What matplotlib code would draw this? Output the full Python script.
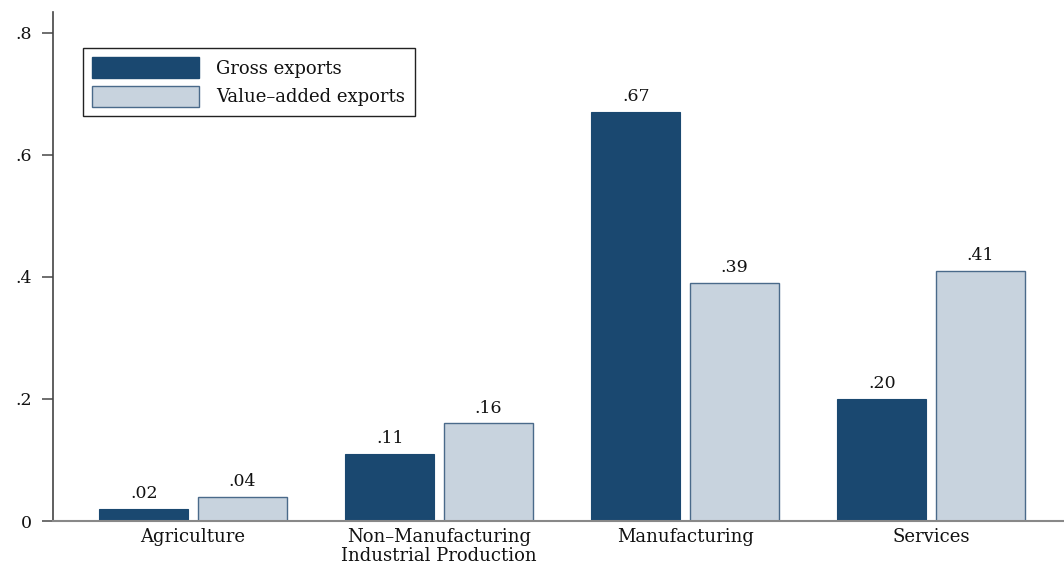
import matplotlib
matplotlib.use("Agg")
import matplotlib.pyplot as plt
import numpy as np
from matplotlib.patches import Patch

categories = ["Agriculture", "Non\u2013Manufacturing\nIndustrial Production", "Manufacturing", "Services"]
gross = [0.02, 0.11, 0.67, 0.20]
value_added = [0.04, 0.16, 0.39, 0.41]
series_names = ["Gross exports", "Value\u2013added exports"]
yticks = [0, 0.2, 0.4, 0.6, 0.8]
ytick_labels = ["0", ".2", ".4", ".6", ".8"]

dark = "#1a4870"
light = "#c8d3de"
edge = "#4a6a8a"

plt.rcParams['font.family'] = ['DejaVu Serif']

fig = plt.figure(figsize=(10.64, 5.65), dpi=100)
ax = fig.add_axes([53/1064, 1-521/565, 1-53/1064, (521-12)/565])

x = np.arange(len(categories))
w = 0.362
off = 0.2
ax.bar(x - off, gross, width=w, color=dark, edgecolor=dark, linewidth=0.8)
ax.bar(x + off, value_added, width=w, color=light, edgecolor=edge, linewidth=1.0)

def fmt(v):
    s = f"{v:.2f}"
    return s[1:] if s.startswith("0") else s

fs = 12.5
for xs, vals in ((x - off, gross), (x + off, value_added)):
    for xi, v in zip(xs, vals):
        ax.text(xi, v + 0.011, fmt(v), ha="center", va="bottom", fontsize=fs, color="#111111")

ax.set_xlim(-0.569, 3.54)
ax.set_ylim(0, 0.834)
ax.set_yticks(yticks)
ax.set_yticklabels(ytick_labels, fontsize=fs)
ax.set_xticks(x)
ax.set_xticklabels(categories, fontsize=13, linespacing=1.1, color="#111111")
ax.tick_params(axis="x", length=0, pad=5)
ax.tick_params(axis="y", length=8, width=1.2, color="#555555", pad=7, labelcolor="#111111")
for s in ("top", "right"):
    ax.spines[s].set_visible(False)
ax.spines["left"].set_color("#444444")
ax.spines["left"].set_linewidth(1.2)
ax.spines["bottom"].set_color("#888888")
ax.spines["bottom"].set_linewidth(1.5)

lfs = 13
handles = [Patch(facecolor=dark, edgecolor=dark), Patch(facecolor=light, edgecolor=edge)]
leg = ax.legend(handles, series_names, loc="upper left",
                bbox_to_anchor=((83-53)/(1064-53), (521-48)/(521-12)),
                fontsize=lfs, handlelength=5.92, handleheight=1.39, handletextpad=0.94,
                labelspacing=0.44, borderpad=0.52, fancybox=False, framealpha=1,
                edgecolor="#222222", borderaxespad=0)
leg.get_frame().set_linewidth(1.0)
for t in leg.get_texts():
    t.set_color("#111111")

fig.savefig("out.png", dpi=100)
